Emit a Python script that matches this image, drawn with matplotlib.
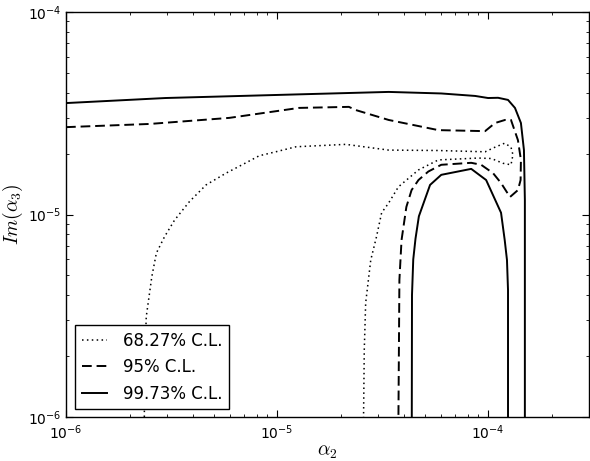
import numpy as np
import matplotlib
matplotlib.use("Agg")
import matplotlib.pyplot as plt

# confidence contours in the (alpha_2, Im(alpha_3)) plane, values in units of 1e-6
SCALE = 1e-6

# 68.27% C.L. (one open contour, bottom -> top -> bulb -> bottom)
x_68 = np.array([2.35, 2.36, 2.40, 2.55, 2.68, 2.93, 3.27, 3.85, 4.61, 5.73, 7.12,
                 8.23, 9.86, 12.3, 21.2, 33.8, 58.1, 96.8, 107.9, 119.9, 128.4,
                 131.2, 128.4, 117.7, 103.7, 89.7, 58.1, 46.8, 37.6, 33.8, 31.3,
                 29.6, 27.8, 26.3, 25.9, 25.7])
y_68 = np.array([1.0, 1.85, 3.13, 4.93, 6.45, 7.77, 9.39, 11.6, 14.0, 16.0, 18.0,
                 19.5, 20.4, 21.6, 22.2, 20.8, 20.7, 20.4, 21.5, 22.5, 21.5,
                 19.7, 17.6, 17.9, 18.9, 19.0, 18.6, 16.6, 13.7, 11.4, 10.2,
                 7.77, 5.96, 3.66, 2.14, 1.0])

# 95% C.L.
x_95 = np.array([1.0, 2.49, 5.94, 12.7, 21.9, 23.6, 33.8, 58.1, 96.8, 107.9, 120.3,
                 128.4, 138.5, 143.1, 142.6, 138.5, 127.0, 115.2, 105.6, 92.7,
                 83.2, 60.0, 52.1, 46.8, 43.4, 41.0, 38.9, 38.0, 37.6])
y_95 = np.array([27.0, 28.0, 30.0, 33.6, 34.0, 32.8, 29.3, 26.1, 25.8, 28.3, 29.3,
                 29.3, 23.3, 18.6, 14.8, 13.2, 12.2, 14.3, 16.0, 17.6,
                 18.0, 17.6, 16.3, 14.8, 13.2, 10.9, 7.48, 4.75, 1.0])

# 99.73% C.L.: outer band and inner island
x_997_out = np.array([1.0, 2.96, 12.7, 33.8, 60.0, 86.8, 100.0, 111.5, 124.3, 134.1,
                      143.1, 147.9, 149.4, 149.4])
y_997_out = np.array([35.5, 37.6, 39.2, 40.3, 39.6, 38.5, 37.6, 37.7, 36.8, 33.6,
                      28.3, 20.8, 11.8, 1.0])
x_997_in = np.array([43.5, 43.6, 44.2, 45.3, 47.0, 53.1, 60.0, 83.2, 97.9, 115.2,
                     119.9, 122.9, 124.3, 124.3])
y_997_in = np.array([1.0, 4.0, 6.0, 7.6, 9.8, 14.0, 15.7, 16.8, 14.8, 10.2,
                     7.48, 5.96, 4.24, 1.0])

labels = ["68.27% C.L.", "95% C.L.", "99.73% C.L."]

plt.rcParams["mathtext.fontset"] = "cm"
plt.rcParams["xtick.direction"] = "in"
plt.rcParams["ytick.direction"] = "in"
plt.rcParams["xtick.top"] = True
plt.rcParams["ytick.right"] = True

fig = plt.figure(figsize=(5.9, 4.61), dpi=100)
ax = fig.add_axes([0.1119, 0.0954, 0.886, 0.8786])

ax.plot(x_68 * SCALE, y_68 * SCALE, color="black", lw=1.1,
        linestyle=(0, (1, 2.2)), label=labels[0])
ax.plot(x_95 * SCALE, y_95 * SCALE, color="black", lw=1.4,
        linestyle=(0, (5, 2.5)), label=labels[1])
ax.plot(x_997_out * SCALE, y_997_out * SCALE, color="black", lw=1.4,
        linestyle="-", label=labels[2])
ax.plot(x_997_in * SCALE, y_997_in * SCALE, color="black", lw=1.4, linestyle="-")

ax.set_xscale("log")
ax.set_yscale("log")
ax.set_xlim(1e-6, 3e-4)
ax.set_ylim(1e-6, 1e-4)

ax.tick_params(which="major", length=5, width=0.8, labelsize=10)
ax.tick_params(which="minor", length=2.5, width=0.6)
ax.tick_params(axis="x", which="major", pad=4.5)
for sp in ax.spines.values():
    sp.set_linewidth(1.0)

ax.set_xlabel(r"$\alpha_2$", fontsize=14, labelpad=0)
ax.set_ylabel(r"$Im(\alpha_3)$", fontsize=14, labelpad=2)

leg = ax.legend(loc="lower left", bbox_to_anchor=(0.017, 0.019), borderaxespad=0,
                fontsize=12, handlelength=1.5, handletextpad=1.0,
                fancybox=False, framealpha=1, edgecolor="black")
leg.get_frame().set_linewidth(1.0)

fig.savefig("out.png", dpi=100)
